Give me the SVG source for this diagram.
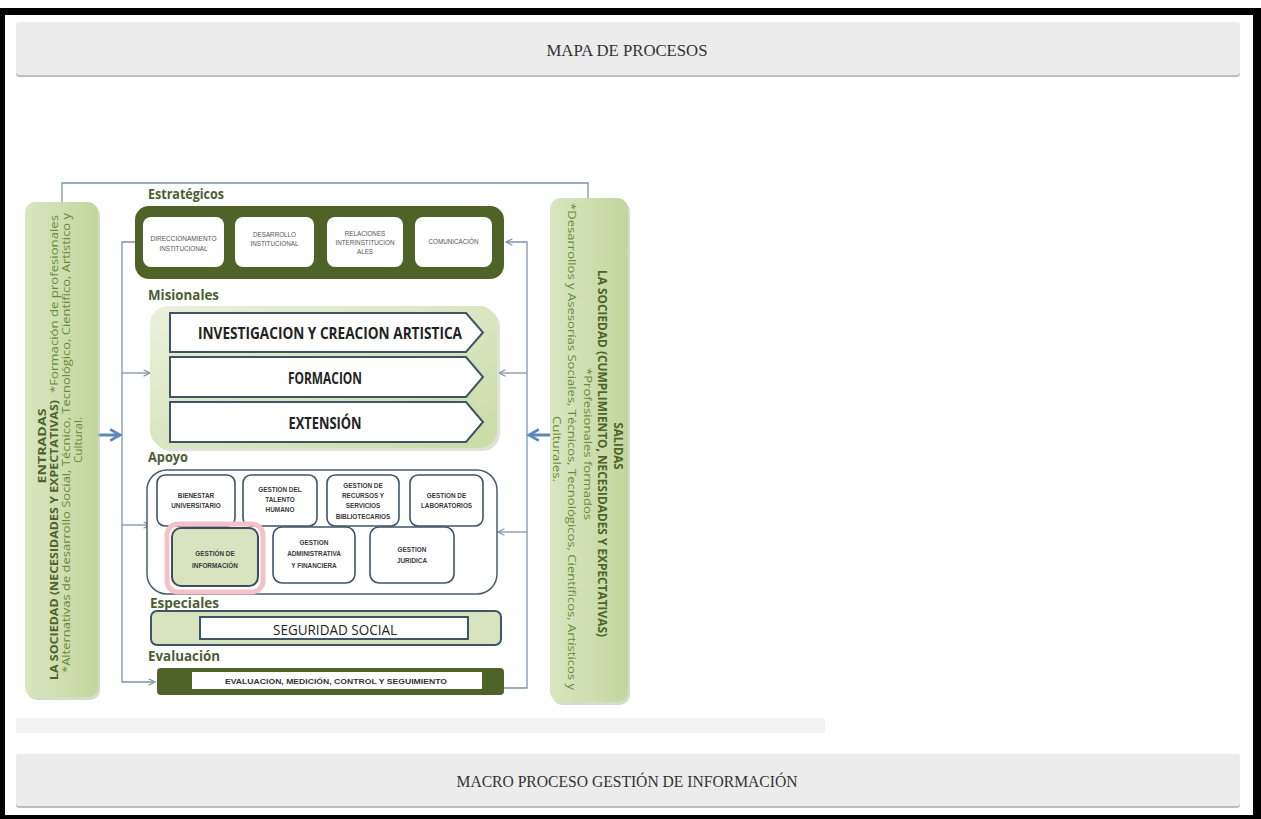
<svg xmlns="http://www.w3.org/2000/svg" width="1261" height="819" viewBox="0 0 1261 819">
<defs>
<style>
.hdr{fill:#ececec}
.hdrtxt{font-family:"Liberation Serif",serif;font-size:17px;fill:#333;text-anchor:middle}
.sec{font-family:"Open Sans","Liberation Sans",sans-serif;font-weight:bold;font-size:14px;fill:#4e5d34}
.small{font-family:"Liberation Sans",sans-serif;font-size:6.3px;fill:#555;text-anchor:middle}
.ap{font-family:"Liberation Sans",sans-serif;font-size:6.4px;font-weight:bold;fill:#3a3a3a;text-anchor:middle}
.chev{fill:#fff;stroke:#3f5468;stroke-width:2}
.chevtxt{font-family:"Open Sans","Liberation Sans",sans-serif;font-weight:bold;font-size:15.5px;fill:#222;text-anchor:middle}
.ibox{fill:#fff;stroke:#3f5468;stroke-width:1.6}
.sbold{font-family:"Open Sans","Liberation Sans",sans-serif;font-weight:bold;fill:#4f6228}
.snorm{font-family:"Open Sans","Liberation Sans",sans-serif;fill:#6a8a3a}
.conn{fill:none;stroke:#8094ab;stroke-width:1.3}
.big{fill:none;stroke:#5b87b8;stroke-width:3}
</style>
<linearGradient id="gside" x1="0" y1="0" x2="1" y2="0">
<stop offset="0" stop-color="#d9e6c1"/><stop offset="1" stop-color="#c3d69d"/>
</linearGradient>
<linearGradient id="gmis" x1="0" y1="0" x2="1" y2="1">
<stop offset="0" stop-color="#eaf1dc"/><stop offset="1" stop-color="#c9dba6"/>
</linearGradient>
<marker id="arr" viewBox="0 0 10 10" refX="9" refY="5" markerWidth="8" markerHeight="8" markerUnits="userSpaceOnUse" orient="auto">
<path d="M1,1 L9,5 L1,9" fill="none" stroke="#8094ab" stroke-width="1.5"/>
</marker>
<marker id="barr" viewBox="0 0 10 10" refX="8" refY="5" markerWidth="14" markerHeight="16" markerUnits="userSpaceOnUse" orient="auto">
<path d="M1,1 L8,5 L1,9" fill="none" stroke="#5b87b8" stroke-width="2"/>
</marker>
</defs>

<rect x="0" y="0" width="1261" height="819" fill="#fff"/>
<path id="frame" d="M0,8 H1261 V819 H0 Z M5,15 V815 H1253 V15 Z" fill="#000" fill-rule="evenodd"/>

<g id="header-top">
<rect x="16" y="24" width="1224" height="53" rx="3" fill="#bdbdbd"/>
<rect class="hdr" x="16" y="22" width="1224" height="53" rx="3"/>
<text class="hdrtxt" x="627" y="56" textLength="161" lengthAdjust="spacingAndGlyphs">MAPA DE PROCESOS</text>
</g>

<rect id="gray-strip" x="16" y="718" width="809" height="15" fill="#f3f3f3"/>

<g id="header-bottom">
<rect x="16" y="756" width="1224" height="52" rx="3" fill="#bdbdbd"/>
<rect class="hdr" x="16" y="754" width="1224" height="52" rx="3"/>
<text class="hdrtxt" x="627" y="787" textLength="341" lengthAdjust="spacingAndGlyphs">MACRO PROCESO GESTIÓN DE INFORMACIÓN</text>
</g>

<g id="connectors">
<path class="conn" d="M62,202 V183 H588 V198"/>
<path class="conn" d="M137,242 H122 V682 H155" marker-end="url(#arr)"/>
<path class="conn" d="M122,373 H150" marker-end="url(#arr)"/>
<path class="conn" d="M122,525 H150" marker-end="url(#arr)"/>
<path class="conn" d="M504,688 H527 V242 H506" marker-end="url(#arr)"/>
<path class="conn" d="M527,373 H499" marker-end="url(#arr)"/>
<path class="conn" d="M527,532 H498" marker-end="url(#arr)"/>
<path class="big" d="M98,435 H120" marker-end="url(#barr)"/>
<path class="big" d="M550,435 H529" marker-end="url(#barr)"/>
</g>

<g id="entradas">
<rect x="27" y="205" width="73" height="495" rx="10" fill="#b9c4a8" opacity="0.6"/>
<rect x="25" y="202" width="73" height="495" rx="10" fill="url(#gside)"/>
<text class="sbold" font-size="10.5" text-anchor="middle" transform="translate(46,446) rotate(-90)" textLength="75" lengthAdjust="spacingAndGlyphs">ENTRADAS</text>
<text class="sbold" font-size="10.5" transform="translate(58,680) rotate(-90)" textLength="280" lengthAdjust="spacingAndGlyphs">LA SOCIEDAD (NECESIDADES Y EXPECTATIVAS)</text>
<text class="snorm" font-size="10.5" transform="translate(58,393) rotate(-90)" textLength="178" lengthAdjust="spacingAndGlyphs">*Formación de profesionales</text>
<text class="snorm" font-size="10.5" transform="translate(70,673) rotate(-90)" textLength="460" lengthAdjust="spacingAndGlyphs">*Alternativas de desarrollo Social, Técnico, Tecnológico, Científico, Artístico y</text>
<text class="snorm" font-size="10.5" text-anchor="middle" transform="translate(82,440) rotate(-90)" textLength="46" lengthAdjust="spacingAndGlyphs">Cultural.</text>
</g>

<g id="salidas">
<rect x="552" y="201" width="78" height="504" rx="11" fill="#b9c4a8" opacity="0.6"/>
<rect x="550" y="198" width="78" height="504" rx="11" fill="url(#gside)"/>
<text class="sbold" font-size="11.5" text-anchor="middle" transform="translate(614,446) rotate(90)" textLength="47" lengthAdjust="spacingAndGlyphs">SALIDAS</text>
<text class="sbold" font-size="11.5" transform="translate(598,270) rotate(90)" textLength="367" lengthAdjust="spacingAndGlyphs">LA SOCIEDAD (CUMPLIMIENTO, NECESIDADES Y EXPECTATIVAS)</text>
<text class="snorm" font-size="11.5" transform="translate(584,368) rotate(90)" textLength="152" lengthAdjust="spacingAndGlyphs">*Profesionales formados</text>
<text class="snorm" font-size="11.5" transform="translate(568,203) rotate(90)" textLength="487" lengthAdjust="spacingAndGlyphs">*Desarrollos y Asesorías Sociales, Técnicos, Tecnológicos, Científicos, Artísticos y</text>
<text class="snorm" font-size="11.5" text-anchor="middle" transform="translate(553,449) rotate(90)" textLength="66" lengthAdjust="spacingAndGlyphs">Culturales.</text>
</g>

<g id="estrategicos">
<text class="sec" x="148" y="199" textLength="76" lengthAdjust="spacingAndGlyphs">Estratégicos</text>
<rect x="135" y="206" width="369" height="73" rx="14" fill="#4f6228"/>
<g id="direccionamiento">
<rect x="143" y="217" width="81" height="50" rx="8" fill="#fff"/>
<text class="small" x="183.5" y="241" textLength="66" lengthAdjust="spacingAndGlyphs">DIRECCIONAMIENTO</text>
<text class="small" x="183.5" y="251">INSTITUCIONAL</text>
</g>
<g id="desarrollo">
<rect x="235" y="217" width="79" height="50" rx="8" fill="#fff"/>
<text class="small" x="274.5" y="237">DESARROLLO</text>
<text class="small" x="274.5" y="246">INSTITUCIONAL</text>
</g>
<g id="relaciones">
<rect x="327" y="217" width="76" height="50" rx="8" fill="#fff"/>
<text class="small" x="365" y="236">RELACIONES</text>
<text class="small" x="365" y="245">INTERINSTITUCION</text>
<text class="small" x="365" y="254">ALES</text>
</g>
<g id="comunicacion">
<rect x="415" y="217" width="77" height="50" rx="8" fill="#fff"/>
<text class="small" x="453.5" y="244">COMUNICACIÓN</text>
</g>
</g>

<g id="misionales">
<text class="sec" x="148" y="300" textLength="71" lengthAdjust="spacingAndGlyphs">Misionales</text>
<rect x="153" y="309" width="347" height="142" rx="18" fill="#c8cfbc" opacity="0.6"/>
<rect x="150" y="306" width="347" height="142" rx="18" fill="url(#gmis)"/>
<g id="investigacion">
<polygon class="chev" points="170,313 466,313 483,332.5 466,352 170,352"/>
<text class="chevtxt" x="330" y="339" textLength="264" lengthAdjust="spacingAndGlyphs">INVESTIGACION Y CREACION ARTISTICA</text>
</g>
<g id="formacion">
<polygon class="chev" points="170,357 466,357 483,377 466,397 170,397"/>
<text class="chevtxt" x="325" y="384" textLength="74" lengthAdjust="spacingAndGlyphs">FORMACION</text>
</g>
<g id="extension">
<polygon class="chev" points="170,402 466,402 483,422 466,442 170,442"/>
<text class="chevtxt" x="325" y="429" textLength="73" lengthAdjust="spacingAndGlyphs">EXTENSIÓN</text>
</g>
</g>

<g id="apoyo">
<text class="sec" x="148" y="462" textLength="40" lengthAdjust="spacingAndGlyphs">Apoyo</text>
<rect x="147" y="470" width="350" height="124" rx="20" fill="#fff" stroke="#4a5b6c" stroke-width="1.5"/>
<g id="bienestar">
<rect class="ibox" x="157" y="475" width="78" height="51" rx="8"/>
<text class="ap" x="196" y="498">BIENESTAR</text>
<text class="ap" x="196" y="508">UNIVERSITARIO</text>
</g>
<g id="talento">
<rect class="ibox" x="243" y="475" width="74" height="51" rx="8"/>
<text class="ap" x="280" y="492">GESTION DEL</text>
<text class="ap" x="280" y="502">TALENTO</text>
<text class="ap" x="280" y="512">HUMANO</text>
</g>
<g id="recursos">
<rect class="ibox" x="327" y="475" width="72" height="51" rx="8"/>
<text class="ap" x="363" y="488">GESTION DE</text>
<text class="ap" x="363" y="498">RECURSOS Y</text>
<text class="ap" x="363" y="508">SERVICIOS</text>
<text class="ap" x="363" y="519">BIBLIOTECARIOS</text>
</g>
<g id="laboratorios">
<rect class="ibox" x="410" y="475" width="73" height="51" rx="8"/>
<text class="ap" x="446.5" y="498">GESTION DE</text>
<text class="ap" x="446.5" y="508">LABORATORIOS</text>
</g>
<g id="gestion-informacion">
<rect x="167" y="524" width="96" height="68" rx="11" fill="none" stroke="#f3c2c9" stroke-width="5"/>
<rect x="172" y="528" width="86" height="58" rx="9" fill="#d8e4bf" stroke="#3d4d5d" stroke-width="2"/>
<text class="ap" font-size="7px" x="215" y="556">GESTIÓN DE</text>
<text class="ap" font-size="7px" x="215" y="568">INFORMACIÓN</text>
</g>
<g id="administrativa">
<rect class="ibox" x="273" y="527" width="82" height="56" rx="9"/>
<text class="ap" x="314" y="545">GESTION</text>
<text class="ap" x="314" y="556">ADMINISTRATIVA</text>
<text class="ap" x="314" y="568">Y FINANCIERA</text>
</g>
<g id="juridica">
<rect class="ibox" x="370" y="527" width="84" height="56" rx="9"/>
<text class="ap" x="412" y="552">GESTION</text>
<text class="ap" x="412" y="563">JURIDICA</text>
</g>
</g>

<g id="especiales">
<text class="sec" x="150" y="608" textLength="69" lengthAdjust="spacingAndGlyphs">Especiales</text>
<rect x="151" y="611" width="350" height="34" rx="6" fill="#d7e4bd" stroke="#3f5468" stroke-width="2"/>
<rect x="200" y="617" width="268" height="22" fill="#fff" stroke="#3f5468" stroke-width="2"/>
<text x="335" y="635" text-anchor="middle" font-family="Open Sans, Liberation Sans, sans-serif" font-size="14.5" fill="#222" textLength="124" lengthAdjust="spacingAndGlyphs">SEGURIDAD SOCIAL</text>
</g>

<g id="evaluacion">
<text class="sec" x="148" y="661" textLength="72" lengthAdjust="spacingAndGlyphs">Evaluación</text>
<rect x="157" y="668" width="347" height="27" rx="4" fill="#4f6228"/>
<rect x="192" y="672" width="290" height="17" fill="#fff"/>
<text x="336" y="684" text-anchor="middle" font-family="Liberation Sans, sans-serif" font-weight="bold" font-size="7.5" fill="#333" textLength="222" lengthAdjust="spacingAndGlyphs">EVALUACION, MEDICIÓN, CONTROL Y SEGUIMIENTO</text>
</g>
</svg>
